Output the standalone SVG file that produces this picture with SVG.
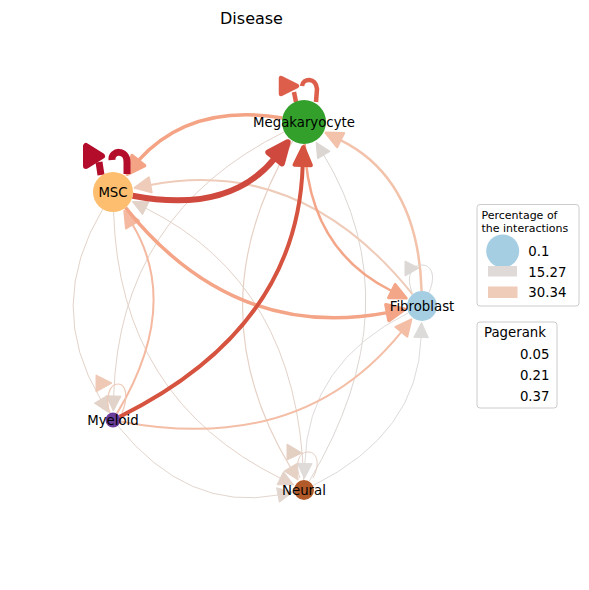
<svg xmlns="http://www.w3.org/2000/svg" width="589" height="590" viewBox="0 0 589 590">
<style>
text{font-family:"DejaVu Sans","Liberation Sans",sans-serif;fill:#000}
.e{fill:none;stroke-linecap:butt}
.h{stroke-linejoin:round}
.lbl{font-size:13.3px;text-anchor:middle}
.leg{fill:#fff;stroke:#cccccc;stroke-width:1}
.lt{font-size:11px}
.li{font-size:13.3px}
</style>
<rect width="589" height="590" fill="#fff"/>
<text x="251.5" y="24.3" style="font-size:16px" text-anchor="middle">Disease</text>
<g id="connectors">
  <g id="e-Neural-Megakaryocyte" stroke="#dcd6d2" fill="#dcd6d2">
    <path class="e" stroke-width="1" d="M309.1,481.4 Q414.4,306 323.8,155.0"/>
    <polygon class="h" stroke-width="1" points="316.1,142.2 317.6,158.8 330.1,151.3"/>
  </g>
  <g id="e-Megakaryocyte-Neural" stroke="#e6d1c5" fill="#e6d1c5">
    <path class="e" stroke-width="1.2" d="M292.7,140.9 Q193.6,306 290.4,467.3"/>
    <polygon class="h" stroke-width="1" points="298.1,480.1 296.7,463.5 284.1,471.1"/>
  </g>
  <g id="e-Megakaryocyte-Myeloid" stroke="#e2d3ca" fill="#e2d3ca">
    <path class="e" stroke-width="1" d="M284.3,131.8 Q119.1,213.7 113.7,396.0"/>
    <polygon class="h" stroke-width="1" points="113.3,411.0 121.0,396.2 106.4,395.8"/>
  </g>
  <g id="e-MSC-Myeloid" stroke="#e3d2c8" fill="#e3d2c8">
    <path class="e" stroke-width="1" d="M102.7,209.2 Q44.6,306 100.7,399.4"/>
    <polygon class="h" stroke-width="1" points="108.4,412.3 107.0,395.7 94.4,403.2"/>
  </g>
  <g id="e-Neural-MSC" stroke="#e3d2c8" fill="#e3d2c8">
    <path class="e" stroke-width="1" d="M303.7,480.0 Q297.9,283.7 145.7,208.2"/>
    <polygon class="h" stroke-width="1" points="132.3,201.6 142.5,214.7 149.0,201.7"/>
  </g>
  <g id="e-MSC-Neural" stroke="#e4d2c8" fill="#e4d2c8">
    <path class="e" stroke-width="1" d="M113.6,212.0 Q119.1,398.3 280.3,478.2"/>
    <polygon class="h" stroke-width="1" points="293.7,484.9 283.5,471.7 277.1,484.7"/>
  </g>
  <g id="e-Neural-Fibroblast" stroke="#dddbda" fill="#dddbda">
    <path class="e" stroke-width="1" d="M313.0,485.6 Q418.2,433.4 421.1,337.5"/>
    <polygon class="h" stroke-width="1" points="421.5,322.5 413.8,337.3 428.4,337.7"/>
  </g>
  <g id="e-Fibroblast-Neural" stroke="#dfdbd9" fill="#dfdbd9">
    <path class="e" stroke-width="1" d="M408.6,312.7 Q307.8,362.6 304.8,463.5"/>
    <polygon class="h" stroke-width="1" points="304.3,478.5 312.1,463.7 297.5,463.3"/>
  </g>
  <g id="e-Myeloid-Neural" stroke="#e2d6cf" fill="#e2d6cf">
    <path class="e" stroke-width="1" d="M117.7,425.8 Q187.5,512.3 278.0,495.0"/>
    <polygon class="h" stroke-width="1" points="292.7,492.2 276.6,487.8 279.4,502.2"/>
  </g>
  <g id="e-Fibroblast-MSC" stroke="#efcbb9" fill="#efcbb9">
    <path class="e" stroke-width="2" d="M412.6,294.3 Q301.7,156.3 150.3,184.9"/>
    <polygon class="h" stroke-width="2" points="134.6,187.9 151.7,192.4 148.9,177.4"/>
  </g>
  <g id="e-Myeloid-MSC" stroke="#f4b9a0" fill="#f4b9a0">
    <path class="e" stroke-width="2" d="M116.9,413.6 Q181.4,306 132.5,224.6"/>
    <polygon class="h" stroke-width="2" points="124.3,210.9 126.0,228.5 139.0,220.7"/>
  </g>
  <g id="e-Myeloid-Fibroblast" stroke="#f4bea6" fill="#f4bea6">
    <path class="e" stroke-width="2" d="M120.4,421.4 Q301.7,455.7 401.4,331.8"/>
    <polygon class="h" stroke-width="2" points="411.4,319.3 395.5,327.0 407.3,336.6"/>
  </g>
  <g id="e-Fibroblast-Megakaryocyte" stroke="#f3c2aa" fill="#f3c2aa">
    <path class="e" stroke-width="2.5" d="M421.6,291.0 Q418.2,178.6 340.5,140.1"/>
    <polygon class="h" stroke-width="2.5" points="325.7,132.8 337.1,147.0 343.9,133.2"/>
  </g>
  <g id="e-Megakaryocyte-Fibroblast" stroke="#f4a688" fill="#f4a688">
    <path class="e" stroke-width="2.5" d="M304.7,144.0 Q307.8,249.4 391.7,291.0"/>
    <polygon class="h" stroke-width="2.5" points="406.5,298.3 395.1,284.1 388.3,297.9"/>
  </g>
  <g id="e-MSC-Fibroblast" stroke="#f5a587" fill="#f5a587">
    <path class="e" stroke-width="3.5" d="M125.5,207.6 Q233.3,341.7 387.4,312.6"/>
    <polygon class="h" stroke-width="3.5" points="404.6,309.3 385.9,304.7 388.9,320.5"/>
  </g>
  <g id="e-Megakaryocyte-MSC" stroke="#f4a384" fill="#f4a384">
    <path class="e" stroke-width="3.5" d="M282.4,117.9 Q190,103 138.3,160.7"/>
    <polygon class="h" stroke-width="3.5" points="127.3,174.3 144.6,165.7 132.0,155.6"/>
  </g>
  <g id="e-Myeloid-Megakaryocyte" stroke="#d5533f" fill="#d5533f">
    <path class="e" stroke-width="4" d="M119.7,416.7 Q297.9,328.3 302.7,165.0"/>
    <polygon class="h" stroke-width="4" points="303.3,147.0 294.5,164.8 310.9,165.2"/>
  </g>
  <g id="e-MSC-Megakaryocyte" stroke="#d0493e" fill="#d0493e">
    <path class="e" stroke-width="6" d="M132.6,195.8 Q229.5,214.3 275.1,157.8"/>
    <polygon class="h" stroke-width="6" points="287.7,142.2 268.3,152.3 282.0,163.3"/>
  </g>
  <g id="loop-Fibroblast" stroke="#dcd8d6" fill="#dcd8d6">
    <path class="e" stroke-width="1" d="M412,292 C406,277 411,265 422,265 C433,265 436,279 428,294"/>
    <polygon class="h" stroke-width="1" points="405,261 405,276 419,268"/>
  </g>
  <g id="loop-Myeloid" stroke="#efc9b6" fill="#efc9b6">
    <path class="e" stroke-width="1.2" d="M110,413 C105,399 109,384 118,384 C127,384 128,399 122,413"/>
    <polygon class="h" stroke-width="1" points="96,375 96,392 112,383"/>
  </g>
  <g id="loop-Neural" stroke="#e4cfc3" fill="#e4cfc3">
    <path class="e" stroke-width="1" d="M300,478 C295,465 298,452 308,452 C318,452 320,465 313,478"/>
    <polygon class="h" stroke-width="1" points="287,444 287,460 302,453"/>
  </g>
  <g id="loop-Megakaryocyte" stroke="#dd5e4a" fill="#dd5e4a">
    <path class="e" stroke-width="4.5" d="M296,102 L294,92"/>
    <path class="e" stroke-width="4.5" stroke-linecap="round" d="M302,86 C303,78 316,77 317,89 L316,102"/>
    <polygon class="h" stroke-width="4.5" points="281,78 281,94 297,86"/>
  </g>
  <g id="loop-MSC" stroke="#b30d2b" fill="#b30d2b">
    <path class="e" stroke-width="7" d="M101,175 L99,162"/>
    <path class="e" stroke-width="7" stroke-linecap="round" d="M112,160 C111,150 127,149 127,162 L127,174"/>
    <polygon class="h" stroke-width="6" points="86,146 86,166 102,156"/>
  </g>
</g>
<g id="node-Megakaryocyte">
  <circle cx="304" cy="122" r="22" fill="#33a02c"/>
  <text class="lbl" x="304" y="126.5">Megakaryocyte</text>
</g>
<g id="node-MSC">
  <circle cx="113" cy="192" r="20" fill="#fdbf6f"/>
  <text class="lbl" x="113" y="196.5">MSC</text>
</g>
<g id="node-Fibroblast">
  <circle cx="422" cy="306" r="15" fill="#a6cee3"/>
  <text class="lbl" x="422" y="310.5">Fibroblast</text>
</g>
<g id="node-Myeloid">
  <circle cx="113" cy="420" r="7.5" fill="#6a3d9a"/>
  <text class="lbl" x="113" y="424.5">Myeloid</text>
</g>
<g id="node-Neural">
  <circle cx="304" cy="490" r="10" fill="#b15928"/>
  <text class="lbl" x="304" y="494.5">Neural</text>
</g>
<g id="legend-percentage">
  <rect class="leg" x="477" y="204.5" width="102" height="101.5" rx="3"/>
  <text class="lt" x="481.5" y="219">Percentage of</text>
  <text class="lt" x="481.5" y="232">the interactions</text>
  <circle cx="502.7" cy="251" r="16.5" fill="#a6cee3"/>
  <text class="li" x="528.3" y="255.5">0.1</text>
  <rect x="488" y="266" width="29" height="10.5" fill="#dfdad7"/>
  <text class="li" x="528.3" y="276.5">15.27</text>
  <rect x="488" y="286.5" width="29.5" height="11.5" fill="#efcbb9"/>
  <text class="li" x="528.3" y="297.3">30.34</text>
</g>
<g id="legend-pagerank">
  <rect class="leg" x="477" y="322" width="80" height="86" rx="3"/>
  <text class="li" x="484" y="337">Pagerank</text>
  <text class="li" x="549.5" y="359" text-anchor="end">0.05</text>
  <text class="li" x="549.5" y="380" text-anchor="end">0.21</text>
  <text class="li" x="549.5" y="400.7" text-anchor="end">0.37</text>
</g>
</svg>
